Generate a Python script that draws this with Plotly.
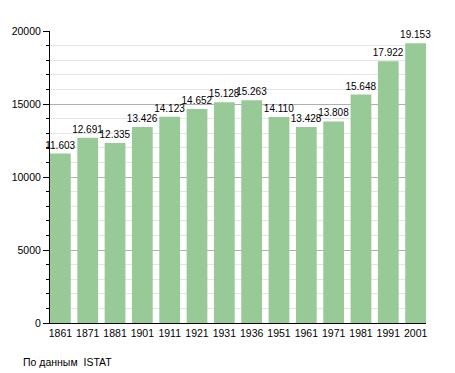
import plotly.graph_objects as go

years = ["1861", "1871", "1881", "1901", "1911", "1921", "1931", "1936",
         "1951", "1961", "1971", "1981", "1991", "2001"]
population = [11603, 12691, 12335, 13426, 14123, 14652, 15128, 15263,
              14110, 13428, 13808, 15648, 17922, 19153]
y_ticks = [0, 5000, 10000, 15000, 20000]

labels = [f"{v:,}".replace(",", ".") for v in population]
xpos = list(range(len(years)))

FONT = "Liberation Sans, Arial"

fig = go.Figure(go.Bar(
    x=xpos, y=population, width=0.76,
    marker=dict(color="#98ca97", line=dict(width=0)),
    text=labels, textposition="outside", cliponaxis=False,
    constraintext="none",
    textfont=dict(family=FONT, size=10, color="#000"),
))

fig.update_layout(
    width=455, height=373,
    margin=dict(l=50, r=29, t=31, b=50, autoexpand=False),
    paper_bgcolor="white", plot_bgcolor="white",
    showlegend=False,
    font=dict(family=FONT, size=10, color="#000"),
    xaxis=dict(
        range=[-0.38, 13.38], tickvals=xpos, ticktext=years,
        showgrid=False, showline=True, linecolor="#000", linewidth=1,
        ticks="", zeroline=False, fixedrange=True,
        tickfont=dict(family=FONT, size=10.5),
    ),
    yaxis=dict(
        range=[0, 20000], tickvals=y_ticks, ticktext=[str(t) for t in y_ticks],
        showgrid=True, gridcolor="#b0b0b0", gridwidth=1,
        showline=True, linecolor="#000", linewidth=1,
        ticks="outside", ticklen=6, tickcolor="#000",
        zeroline=False, fixedrange=True,
        tickfont=dict(family=FONT, size=10.5),
        minor=dict(dtick=1000, showgrid=True, gridcolor="#e4e4e4",
                   ticks="outside", ticklen=3, tickcolor="#000"),
    ),
    annotations=[dict(
        text="По данным  ISTAT", xref="paper", yref="paper",
        x=-0.077, y=-0.133, xanchor="left", yanchor="middle", showarrow=False,
        font=dict(family=FONT, size=10.5, color="#000"),
    )],
)

fig.write_html("out.html", config={"displayModeBar": False},
               post_script="document.body.style.margin='0';")
